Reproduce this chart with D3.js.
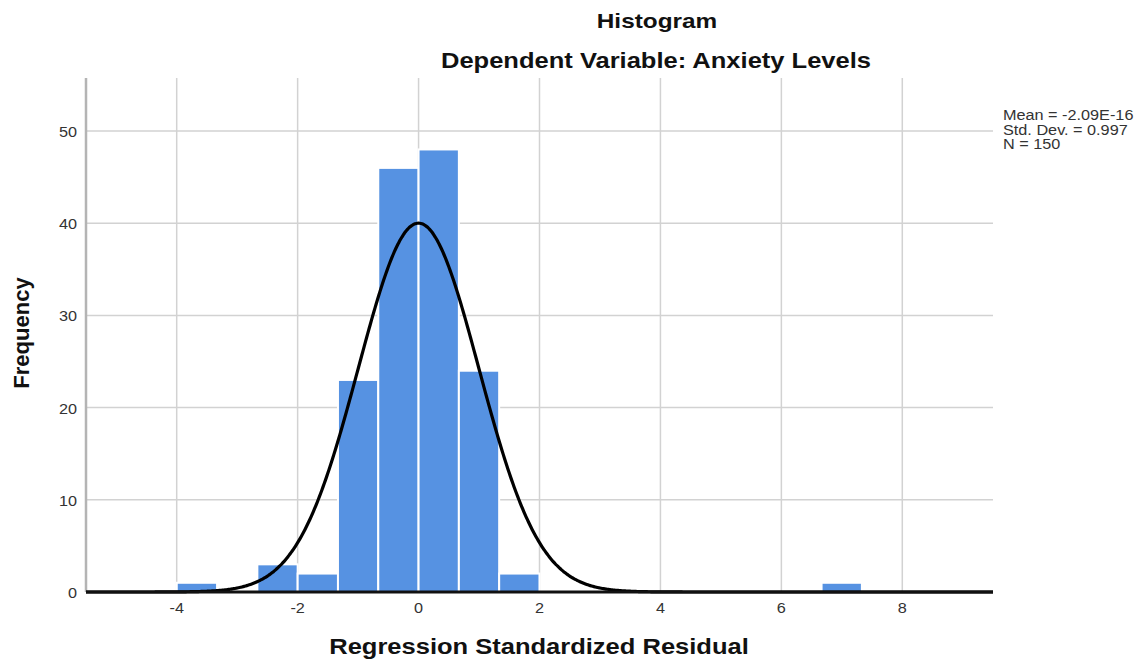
<!DOCTYPE html>
<html><head><meta charset="utf-8">
<script src="https://cdn.jsdelivr.net/npm/d3@7"></script>
<style>body{margin:0;background:#fff}svg{display:block}text{font-family:"Liberation Sans",Arial,sans-serif}</style>
</head><body>
<svg id="c" width="1143" height="663"></svg>
<script>
// ---- data ----
const binWidth = 0.6665;
const binIndex = [-6, -4, -3, -2, -1, 0, 1, 2, 10];   // bin k spans [k*w, (k+1)*w)
const counts   = [1, 3, 2, 23, 46, 48, 24, 2, 1];
const xTicks = [-4, -2, 0, 2, 4, 6, 8];
const yTicks = [0, 10, 20, 30, 40, 50];
const statsLines = ["Mean = -2.09E-16", "Std. Dev. = 0.997", "N = 150"];
const meanVal = -2.09e-16, sdVal = 0.997, nVal = 150;
const titleLines = ["Histogram", "Dependent Variable: Anxiety Levels"];
const xTitle = "Regression Standardized Residual";
const yTitle = "Frequency";

const SX = 1.16; // horizontal text stretch seen in the reference
const svg = d3.select("#c");
const L = 86, R = 993, T = 78, B = 592;
const x = d3.scaleLinear().domain([-5.5, 9.5]).range([L, R]);
const y = d3.scaleLinear().domain([0, 55.75]).range([B, T]);

function htext(g, tx, ty, anchor, size, weight, fill, str) {
  return g.append("text")
    .attr("transform", `translate(${tx},${ty}) scale(${SX},1)`)
    .attr("text-anchor", anchor).attr("font-size", size)
    .attr("font-weight", weight).attr("fill", fill).text(str);
}

// grid
svg.append("g").selectAll("line").data(yTicks.filter(d => d > 0)).join("line")
  .attr("x1", L).attr("x2", R).attr("y1", d => y(d)).attr("y2", d => y(d))
  .attr("stroke", "#d2d2d2").attr("stroke-width", 1.5);
svg.append("g").selectAll("line").data(xTicks).join("line")
  .attr("x1", d => x(d)).attr("x2", d => x(d)).attr("y1", T).attr("y2", B)
  .attr("stroke", "#d2d2d2").attr("stroke-width", 1.5);

// bars
const bars = binIndex.map((k, i) => ({x0: k * binWidth, x1: (k + 1) * binWidth, c: counts[i]}));
svg.append("g").selectAll("rect").data(bars).join("rect")
  .attr("x", d => x(d.x0)).attr("width", d => x(d.x1) - x(d.x0))
  .attr("y", d => y(d.c)).attr("height", d => y(0) - y(d.c))
  .attr("fill", "#5692e2").attr("stroke", "#ffffff").attr("stroke-width", 2);

// y axis line
svg.append("line").attr("x1", L).attr("x2", L).attr("y1", T).attr("y2", B)
  .attr("stroke", "#b4b4b4").attr("stroke-width", 2.5);

// normal curve
const pts = d3.range(-5.5, 9.5001, 0.02).map(v => [v, nVal * binWidth * Math.exp(-0.5 * Math.pow((v - meanVal) / sdVal, 2)) / (sdVal * Math.sqrt(2 * Math.PI))]);
svg.append("path").datum(pts)
  .attr("d", d3.line().x(d => x(d[0])).y(d => y(d[1])).curve(d3.curveBasis))
  .attr("fill", "none").attr("stroke", "#000").attr("stroke-width", 3.2);

// baseline
svg.append("line").attr("x1", L).attr("x2", R).attr("y1", B).attr("y2", B)
  .attr("stroke", "#111").attr("stroke-width", 3);

// tick labels
const gx = svg.append("g");
xTicks.forEach(d => htext(gx, x(d), 613, "middle", 14, "normal", "#333", d));
const gy = svg.append("g");
yTicks.forEach(d => htext(gy, 77, y(d) + 6, "end", 14, "normal", "#333", d));

// titles
const gt = svg.append("g");
htext(gt, 657, 28, "middle", 21, "bold", "#111", titleLines[0]);
htext(gt, 656, 68, "middle", 22, "bold", "#111", titleLines[1]);
htext(gt, 539, 654, "middle", 22, "bold", "#111", xTitle);
svg.append("text").attr("transform", "translate(29,333) rotate(-90)").attr("text-anchor", "middle")
  .attr("font-size", 22).attr("font-weight", "bold").attr("fill", "#111").text(yTitle);

// stats legend
const gl = svg.append("g");
statsLines.forEach((s, i) => htext(gl, 1003, 120 + i * 14.5, "start", 14, "normal", "#333", s));
</script>
</body></html>
